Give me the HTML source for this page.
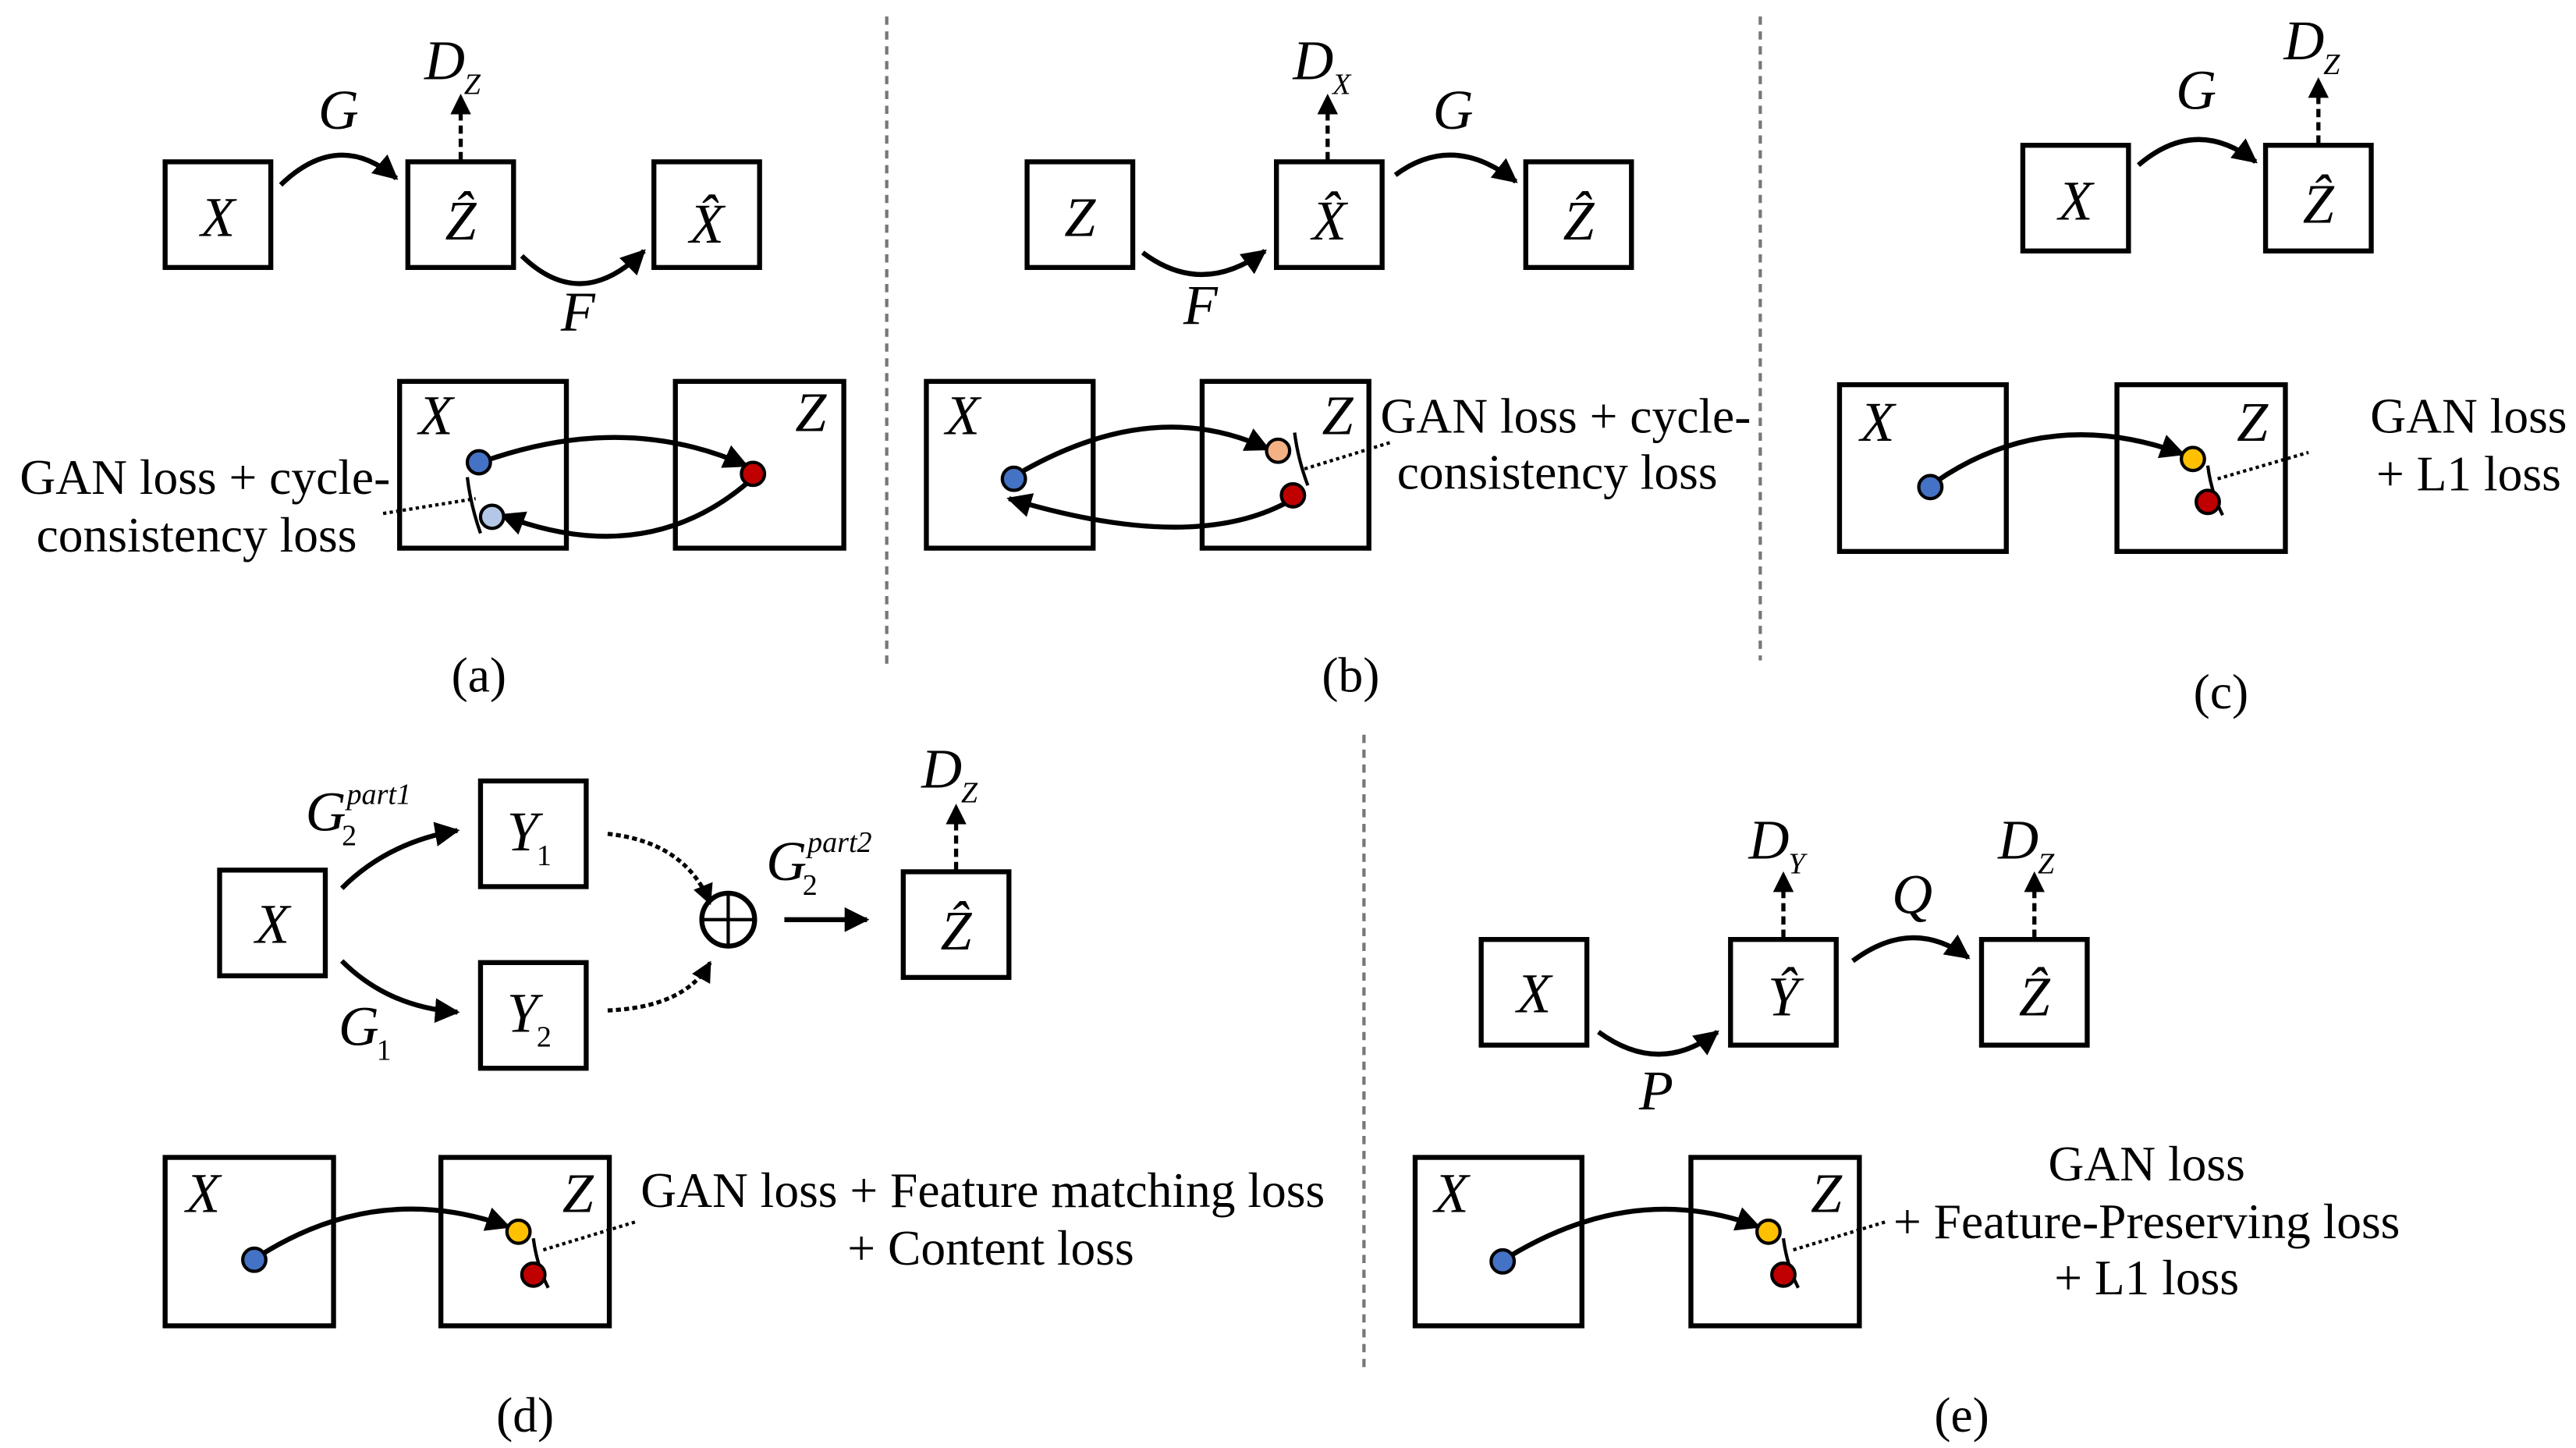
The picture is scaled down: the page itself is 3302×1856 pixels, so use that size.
<!DOCTYPE html>
<html><head><meta charset="utf-8"><style>
html,body{margin:0;padding:0;background:#fff}
svg{display:block}
text{font-family:"Liberation Serif",serif;fill:#000}
.m{font-style:italic;font-size:34px}
.t{font-size:30px}
.s{font-style:italic;font-size:18px}
</style></head><body>
<svg width="3302" height="1856" viewBox="0 0 1560 877" preserveAspectRatio="none" xmlns="http://www.w3.org/2000/svg">
<defs>
<marker id="a" viewBox="0 0 10 10" refX="9" refY="5" markerWidth="5" markerHeight="5" orient="auto"><path d="M0,0L10,5L0,10z" fill="#000"/></marker>
</defs>
<g fill="none" stroke="#000" stroke-width="3">
<line x1="537" y1="10" x2="537" y2="405" stroke="#777" stroke-width="2" stroke-dasharray="5,4"/>
<line x1="1066" y1="10" x2="1066" y2="400" stroke="#777" stroke-width="2" stroke-dasharray="5,4"/>
<line x1="826" y1="445" x2="826" y2="830" stroke="#777" stroke-width="2" stroke-dasharray="5,4"/>
<!-- (a) -->
<rect x="100" y="98" width="64" height="64"/><rect x="247" y="98" width="64" height="64"/><rect x="396" y="98" width="64" height="64"/>
<path d="M170,112 Q205,78 240,108" marker-end="url(#a)"/>
<path d="M316,155 Q352,190 390,152" marker-end="url(#a)"/>
<line x1="279" y1="97" x2="279" y2="58" stroke-dasharray="5,3" stroke-width="2.5" marker-end="url(#a)"/>
<rect x="242" y="231" width="101" height="101"/><rect x="409" y="231" width="102" height="101"/>
<path d="M297,278 Q380,250 452,282" marker-end="url(#a)"/>
<path d="M452,293 Q390,345 304,312" marker-end="url(#a)"/>
<path d="M283,289 Q285,306 291,323" stroke-width="2"/>
<line x1="232" y1="311" x2="288" y2="302" stroke-dasharray="2,2" stroke-width="2"/>
<!-- (b) -->
<rect x="622" y="98" width="64" height="64"/><rect x="773" y="98" width="64" height="64"/><rect x="924" y="98" width="64" height="64"/>
<path d="M845,106 Q880,80 918,110" marker-end="url(#a)"/>
<path d="M692,153 Q728,180 766,152" marker-end="url(#a)"/>
<line x1="804" y1="97" x2="804" y2="58" stroke-dasharray="5,3" stroke-width="2.5" marker-end="url(#a)"/>
<rect x="561" y="231" width="101" height="101"/><rect x="728" y="231" width="101" height="101"/>
<path d="M620,285 Q700,240 768,272" marker-end="url(#a)"/>
<path d="M778,305 Q720,335 611,302" marker-end="url(#a)"/>
<path d="M784,262 Q786,278 792,294" stroke-width="2"/>
<line x1="790" y1="284" x2="842" y2="268" stroke-dasharray="2,2" stroke-width="2"/>
<!-- (c) -->
<rect x="1225" y="88" width="64" height="64"/><rect x="1372" y="88" width="64" height="64"/>
<path d="M1295,100 Q1330,70 1366,98" marker-end="url(#a)"/>
<line x1="1404" y1="87" x2="1404" y2="48" stroke-dasharray="5,3" stroke-width="2.5" marker-end="url(#a)"/>
<rect x="1114" y="233" width="101" height="101"/><rect x="1282" y="233" width="102" height="101"/>
<path d="M1172,292 Q1240,245 1322,275" marker-end="url(#a)"/>
<path d="M1337,282 Q1339,298 1346,312" stroke-width="2"/>
<line x1="1343" y1="290" x2="1398" y2="274" stroke-dasharray="2,2" stroke-width="2"/>
<!-- (d) -->
<rect x="133" y="527" width="64" height="64"/><rect x="291" y="473" width="64" height="64"/><rect x="291" y="583" width="64" height="64"/><rect x="547" y="528" width="64" height="64"/>
<path d="M207,538 Q235,510 277,503" marker-end="url(#a)"/>
<path d="M207,582 Q235,610 277,613" marker-end="url(#a)"/>
<path d="M368,505 Q415,510 430,547" stroke-dasharray="3,2" stroke-width="2.5" marker-end="url(#a)"/>
<path d="M368,612 Q415,610 430,583" stroke-dasharray="3,2" stroke-width="2.5" marker-end="url(#a)"/>
<line x1="475" y1="557" x2="525" y2="557" marker-end="url(#a)"/>
<circle cx="441" cy="557" r="16"/><line x1="425" y1="557" x2="457" y2="557" stroke-width="2"/><line x1="441" y1="541" x2="441" y2="573" stroke-width="2"/>
<line x1="579" y1="527" x2="579" y2="488" stroke-dasharray="5,3" stroke-width="2.5" marker-end="url(#a)"/>
<rect x="100" y="701" width="102" height="102"/><rect x="267" y="701" width="102" height="102"/>
<path d="M158,760 Q230,715 308,743" marker-end="url(#a)"/>
<path d="M323,750 Q325,766 332,780" stroke-width="2"/>
<line x1="329" y1="757" x2="385" y2="740" stroke-dasharray="2,2" stroke-width="2"/>
<!-- (e) -->
<rect x="897" y="569" width="64" height="64"/><rect x="1048" y="569" width="64" height="64"/><rect x="1200" y="569" width="64" height="64"/>
<path d="M968,625 Q1005,652 1040,625" marker-end="url(#a)"/>
<path d="M1122,582 Q1158,555 1192,580" marker-end="url(#a)"/>
<line x1="1080" y1="568" x2="1080" y2="529" stroke-dasharray="5,3" stroke-width="2.5" marker-end="url(#a)"/>
<line x1="1232" y1="568" x2="1232" y2="529" stroke-dasharray="5,3" stroke-width="2.5" marker-end="url(#a)"/>
<rect x="857" y="701" width="101" height="102"/><rect x="1024" y="701" width="102" height="102"/>
<path d="M914,761 Q990,715 1065,743" marker-end="url(#a)"/>
<path d="M1080,750 Q1082,766 1089,780" stroke-width="2"/>
<line x1="1086" y1="757" x2="1142" y2="740" stroke-dasharray="2,2" stroke-width="2"/>
</g>
<g stroke="#000" stroke-width="2">
<circle cx="290" cy="280" r="7" fill="#4472c4"/><circle cx="298" cy="313" r="7" fill="#b4c7e7"/><circle cx="456" cy="287" r="7" fill="#c00000"/>
<circle cx="614" cy="290" r="7" fill="#4472c4"/><circle cx="774" cy="273" r="7" fill="#f4b183"/><circle cx="783" cy="300" r="7" fill="#c00000"/>
<circle cx="1169" cy="295" r="7" fill="#4472c4"/><circle cx="1328" cy="278" r="7" fill="#ffc000"/><circle cx="1337" cy="304" r="7" fill="#c00000"/>
<circle cx="154" cy="763" r="7" fill="#4472c4"/><circle cx="314" cy="746" r="7" fill="#ffc000"/><circle cx="323" cy="772" r="7" fill="#c00000"/>
<circle cx="910" cy="764" r="7" fill="#4472c4"/><circle cx="1071" cy="746" r="7" fill="#ffc000"/><circle cx="1080" cy="772" r="7" fill="#c00000"/>
</g>
<g class="m" text-anchor="middle">
<text x="132" y="143">X</text><text x="279" y="145">Ẑ</text><text x="428" y="147">X̂</text>
<text x="205" y="78">G</text><text x="350" y="200">F</text>
<text x="654" y="143">Z</text><text x="805" y="145">X̂</text><text x="956" y="145">Ẑ</text>
<text x="880" y="78">G</text><text x="727" y="196">F</text>
<text x="1257" y="133">X</text><text x="1404" y="135">Ẑ</text><text x="1330" y="66">G</text>
<text x="165" y="571">X</text><text x="579" y="575">Ẑ</text>
<text x="929" y="613">X</text><text x="1080" y="615">Ŷ</text><text x="1232" y="615">Ẑ</text>
<text x="1003" y="672">P</text><text x="1158" y="553">Q</text>
<text x="264" y="263">X</text><text x="491" y="261">Z</text>
<text x="583" y="263">X</text><text x="810" y="263">Z</text>
<text x="1137" y="267">X</text><text x="1364" y="267">Z</text>
<text x="123" y="734">X</text><text x="350" y="734">Z</text>
<text x="879" y="734">X</text><text x="1106" y="734">Z</text>
</g>
<g class="m">
<text x="257" y="48">D</text><text class="s" x="281" y="57">Z</text>
<text x="783" y="48">D</text><text class="s" x="807" y="57">X</text>
<text x="1383" y="36">D</text><text class="s" x="1407" y="45">Z</text>
<text x="558" y="477">D</text><text class="s" x="582" y="486">Z</text>
<text x="1059" y="520">D</text><text class="s" x="1083" y="529">Y</text>
<text x="1210" y="520">D</text><text class="s" x="1234" y="529">Z</text>
<text x="307" y="515">Y</text><text class="s" x="325" y="524" style="font-style:normal">1</text>
<text x="307" y="625">Y</text><text class="s" x="325" y="634" style="font-style:normal">2</text>
<text x="185" y="503">G</text><text class="s" x="207" y="512" style="font-style:normal">2</text><text class="s" x="210" y="487">part1</text>
<text x="205" y="633">G</text><text class="s" x="228" y="642" style="font-style:normal">1</text>
<text x="464" y="533">G</text><text class="s" x="486" y="542" style="font-style:normal">2</text><text class="s" x="489" y="516">part2</text>
</g>
<g class="t">
<text x="12" y="299">GAN loss + cycle-</text><text x="22" y="334">consistency loss</text>
<text x="836" y="262">GAN loss + cycle-</text><text x="846" y="296">consistency loss</text>
<text x="388" y="731">GAN loss + Feature matching loss</text>
<g text-anchor="middle">
<text x="1495" y="262">GAN loss</text><text x="1495" y="297">+ L1 loss</text>
<text x="600" y="766">+ Content loss</text>
<text x="1300" y="715">GAN loss</text><text x="1300" y="750">+ Feature-Preserving loss</text><text x="1300" y="784">+ L1 loss</text>
<text x="290" y="419">(a)</text><text x="818" y="419">(b)</text><text x="1345" y="429">(c)</text>
<text x="318" y="867">(d)</text><text x="1188" y="867">(e)</text>
</g>
</g>
</svg>
</body></html>
